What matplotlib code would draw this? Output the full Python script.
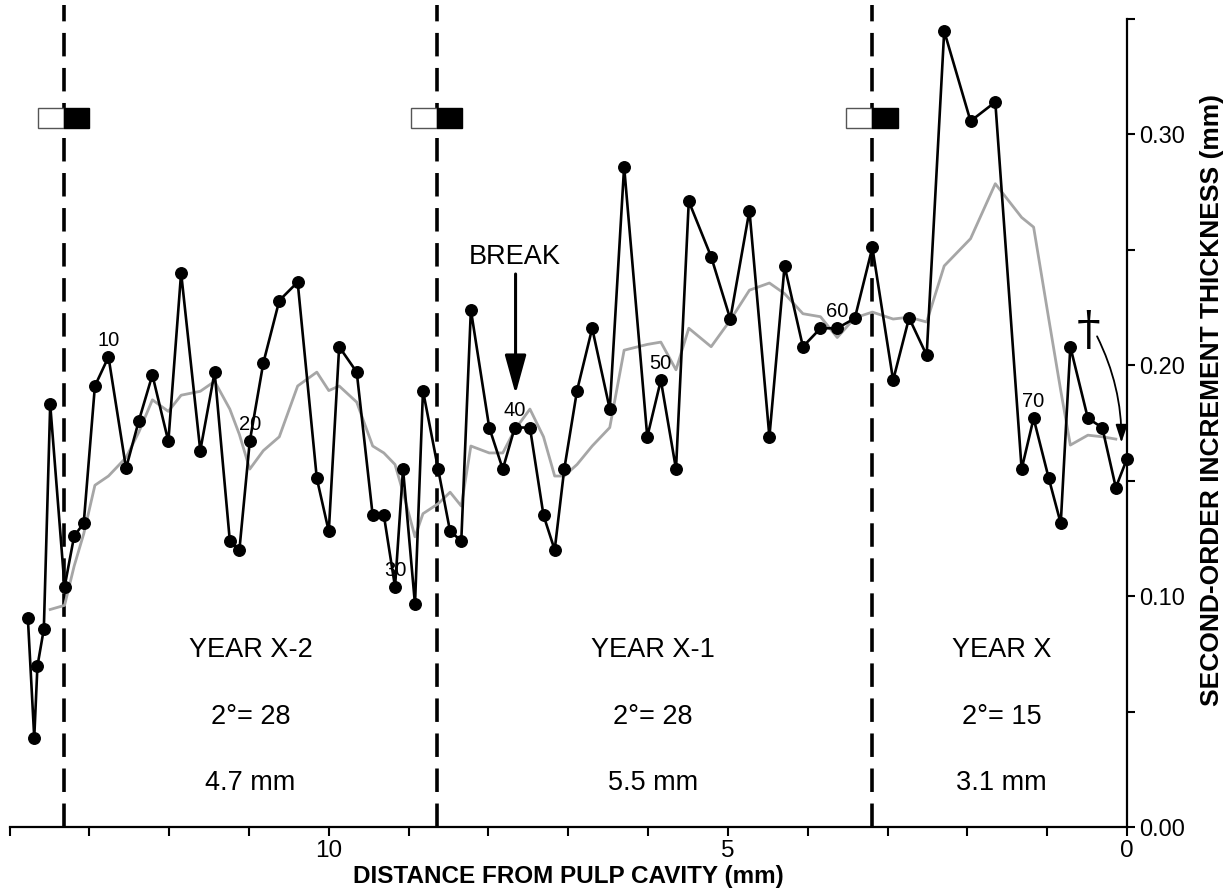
"""Second-order increment thickness along the tusk, three years of growth."""

import matplotlib

matplotlib.use("Agg")
import matplotlib.patches as mpatches  # noqa: E402
import matplotlib.pyplot as plt  # noqa: E402

plt.rcParams["font.family"] = ["Liberation Sans", "DejaVu Sans"]

# distance from pulp cavity (mm) for each second-order increment
distance = [
    13.77, 13.69, 13.65, 13.57, 13.49, 13.31, 13.19, 13.07, 12.93, 12.76,
    12.54, 12.38, 12.21, 12.01, 11.85, 11.61, 11.43, 11.24, 11.12, 10.99,
    10.82, 10.62, 10.39, 10.15, 10.00, 9.87, 9.65, 9.45, 9.31, 9.17,
    9.07, 8.92, 8.82, 8.63, 8.48, 8.34, 8.22, 7.99, 7.82, 7.67,
    7.48, 7.31, 7.17, 7.05, 6.89, 6.70, 6.48, 6.30, 6.01, 5.84,
    5.65, 5.49, 5.21, 4.97, 4.73, 4.48, 4.29, 4.06, 3.84, 3.63,
    3.41, 3.19, 2.93, 2.73, 2.51, 2.29, 1.96, 1.65, 1.32, 1.17,
    0.98, 0.83, 0.71, 0.49, 0.31, 0.14, 0.00,
]
thickness = [
    0.0905, 0.0387, 0.0697, 0.0857, 0.183, 0.104, 0.126, 0.1316, 0.191, 0.2036,
    0.1554, 0.1759, 0.1958, 0.167, 0.240, 0.163, 0.197, 0.124, 0.120, 0.167,
    0.201, 0.228, 0.236, 0.151, 0.128, 0.208, 0.197, 0.135, 0.135, 0.104,
    0.155, 0.0964, 0.189, 0.155, 0.128, 0.124, 0.224, 0.173, 0.155, 0.173,
    0.173, 0.135, 0.120, 0.155, 0.189, 0.216, 0.181, 0.286, 0.169, 0.1935,
    0.155, 0.271, 0.247, 0.220, 0.267, 0.169, 0.243, 0.208, 0.216, 0.216,
    0.2203, 0.251, 0.1935, 0.2205, 0.2043, 0.3447, 0.3057, 0.314, 0.155, 0.177,
    0.151, 0.1315, 0.208, 0.177, 0.173, 0.147, 0.1595,
]

# smoothed trend (grey), increments 5..76
trend_distance = distance[4:76]
trend = [
    0.0942, 0.096, 0.113, 0.127, 0.148, 0.152, 0.160, 0.171, 0.185, 0.180,
    0.187, 0.1887, 0.193, 0.181, 0.170, 0.155, 0.163, 0.169, 0.191, 0.197,
    0.189, 0.191, 0.184, 0.165, 0.162, 0.157, 0.145, 0.1257, 0.1357, 0.140,
    0.145, 0.139, 0.165, 0.162, 0.162, 0.172, 0.181, 0.169, 0.152, 0.152,
    0.157, 0.165, 0.173, 0.2065, 0.209, 0.210, 0.198, 0.216, 0.208, 0.2195,
    0.2325, 0.2356, 0.231, 0.2223, 0.221, 0.212, 0.2205, 0.223, 0.220, 0.2208,
    0.2187, 0.243, 0.2548, 0.2786, 0.264, 0.2598, 0.220, 0.189, 0.1654, 0.1697,
    0.169, 0.168,
]

year_bounds = [13.32, 8.65, 3.19]
year_centres = [10.98, 5.94, 1.57]
year_names = ["YEAR X-2", "YEAR X-1", "YEAR X"]
year_counts = ["2°= 28", "2°= 28", "2°= 15"]
year_widths = ["4.7 mm", "5.5 mm", "3.1 mm"]


def main() -> int:
    fig = plt.figure(figsize=(12.3, 8.92), dpi=100)
    ax = fig.add_axes([9.5 / 1230, 65 / 892, (1127 - 9.5) / 1230, 822 / 892])
    ax.set_xlim(14, 0)
    ax.set_ylim(0, 0.356)

    for s in ("top", "left"):
        ax.spines[s].set_visible(False)
    ax.spines["right"].set_bounds(0, 0.35)
    ax.spines["bottom"].set_bounds(0, 14)
    for s in ("right", "bottom"):
        ax.spines[s].set_linewidth(1.6)

    ax.yaxis.tick_right()
    ax.set_yticks([0, 0.05, 0.10, 0.15, 0.20, 0.25, 0.30, 0.35])
    ax.set_yticklabels(["0.00", "", "0.10", "", "0.20", "", "0.30", ""])
    ax.set_xticks(range(15))
    ax.set_xticklabels(["0", "", "", "", "", "5", "", "", "", "", "10", "", "", "", ""])
    ax.tick_params(axis="y", direction="out", length=5.5, width=1.5, pad=3, labelsize=17)
    ax.tick_params(axis="x", direction="out", length=6.5, width=1.5, pad=3, labelsize=17.5)

    # year boundaries
    for b in year_bounds:
        ax.axvline(b, color="black", lw=2.6, ls=(0, (6.5, 3.2)), zorder=1)
        ax.add_patch(mpatches.Rectangle((b, 0.3027), 0.325, 0.0088, facecolor="white",
                                        edgecolor="#555555", lw=1.0, zorder=4))
        ax.add_patch(mpatches.Rectangle((b - 0.315, 0.3027), 0.315, 0.0088, facecolor="black",
                                        edgecolor="black", lw=1.0, zorder=4))

    ax.plot(trend_distance, trend, color="#a6a6a6", lw=2.0, zorder=2)
    ax.plot(distance, thickness, color="black", lw=1.9, marker="o", ms=8.3, zorder=3,
            clip_on=False)

    for i in range(9, len(distance), 10):
        ax.annotate(str(i + 1), (distance[i], thickness[i]), xytext=(0, 12),
                    textcoords="offset points", ha="center", va="center", fontsize=14.5)

    for xc, name, cnt, wid in zip(year_centres, year_names, year_counts, year_widths):
        ax.text(xc, 0.0766, name, ha="center", va="center", fontsize=19.5)
        ax.text(xc, 0.0477, cnt, ha="center", va="center", fontsize=19.5)
        ax.text(xc, 0.019, wid, ha="center", va="center", fontsize=19.5)

    # BREAK marker
    ax.text(7.67, 0.2468, "BREAK", ha="center", va="center", fontsize=19.5)
    ax.annotate("", xy=(7.66, 0.1875), xytext=(7.66, 0.2395),
                arrowprops={"arrowstyle": "-|>,head_length=0.8,head_width=0.22",
                            "mutation_scale": 30, "color": "black", "lw": 2.2,
                            "shrinkA": 0, "shrinkB": 0})

    # dagger marker at the last increment
    ax.text(0.48, 0.2145, "\u2020", ha="center", va="center", fontsize=34,
            family="DejaVu Serif")
    ax.annotate("", xy=(0.07, 0.1665), xytext=(0.375, 0.2125),
                arrowprops={"arrowstyle": "-|>,head_length=0.6,head_width=0.2",
                            "mutation_scale": 18, "color": "black", "lw": 1.3,
                            "shrinkA": 0, "shrinkB": 0,
                            "connectionstyle": "arc3,rad=-0.12"})

    ax.set_xlabel("DISTANCE FROM PULP CAVITY (mm)", fontsize=17.5, fontweight="bold",
                  labelpad=2)
    fig.text(1212 / 1230, 1 - 400 / 892, "SECOND-ORDER INCREMENT THICKNESS (mm)",
             rotation=90, ha="center", va="center", fontsize=19, fontweight="bold")

    fig.savefig("out.png", dpi=100)
    return 0


if __name__ == "__main__":
    raise SystemExit(main())
